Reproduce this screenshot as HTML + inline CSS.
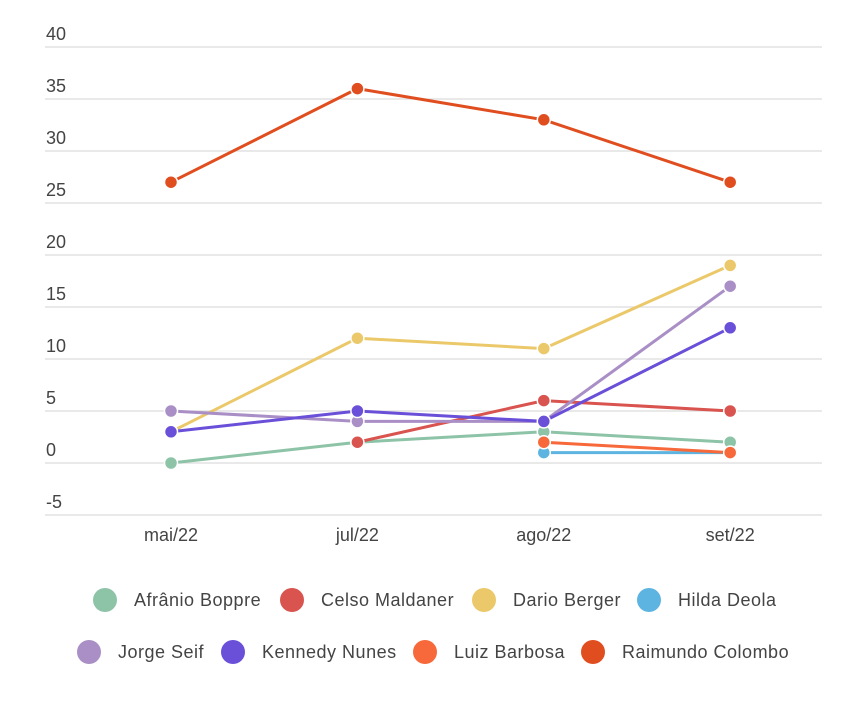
<!DOCTYPE html>
<html><head><meta charset="utf-8"><style>
body{margin:0;background:#fff;font-family:"Liberation Sans",sans-serif}
svg text{font-family:"Liberation Sans",sans-serif}
</style></head><body>
<svg id="c" width="861" height="710"></svg>
<script>
const categories=["mai/22","jul/22","ago/22","set/22"];
const seriesNames=["Afrânio Boppre","Celso Maldaner","Dario Berger","Hilda Deola","Jorge Seif","Kennedy Nunes","Luiz Barbosa","Raimundo Colombo"];
const seriesColors=["#8dc3a7","#d9534f","#ebc96a","#5db4e0","#a98fc6","#6a4fd9","#f7693a","#e04e20"];
const afranio=[0,2,3,2];
const celso=[null,2,6,5];
const dario=[3,12,11,19];
const hilda=[null,null,1,1];
const jorge=[5,4,4,17];
const kennedy=[3,5,4,13];
const luiz=[null,null,2,1];
const raimundo=[27,36,33,27];
const seriesValues=[afranio,celso,dario,hilda,jorge,kennedy,luiz,raimundo];
const yTicks=[40,35,30,25,20,15,10,5,0,-5];

const NS="http://www.w3.org/2000/svg";
const svg=document.getElementById('c');
function y(v){return 463-(v*52/5);}
function x(i){return 171+i*186.4;}
function mk(t,a){const e=document.createElementNS(NS,t);for(const k in a)e.setAttribute(k,a[k]);return e;}

yTicks.forEach(t=>{
  const l=mk('line',{x1:45,x2:822,y1:y(t),y2:y(t),stroke:'#dcdcdc','stroke-width':1.3});
  
  
  svg.appendChild(l);
  const tx=mk('text',{x:46,y:y(t)-7,'font-size':18,fill:'#444'});
  tx.textContent=t;
  
  
  svg.appendChild(tx);
});
categories.forEach((c,i)=>{
  const tx=mk('text',{x:x(i),y:541,'font-size':18,fill:'#444','text-anchor':'middle'});
  tx.textContent=c;
  
  
  svg.appendChild(tx);
});
seriesValues.forEach((vals,s)=>{
  const g=mk('g',{});
  
  
  let d='';
  vals.forEach((v,i)=>{if(v===null)return;d+=(d?'L':'M')+x(i)+' '+y(v)+' ';});
  const p=mk('path',{d:d,fill:'none',stroke:seriesColors[s],'stroke-width':3});
  
  
  g.appendChild(p);
  vals.forEach((v,i)=>{if(v===null)return;
    const c=mk('circle',{cx:x(i),cy:y(v),r:6.5,fill:seriesColors[s],stroke:'#fff','stroke-width':1.5});
    
    
    g.appendChild(c);
  });
  svg.appendChild(g);
});
const legX=[105,292,484,649,89,233,425,593];
seriesNames.forEach((n,s)=>{
  const cy=s<4?600:652;
  const g=mk('g',{});
  
  
  g.appendChild(mk('circle',{cx:legX[s],cy:cy,r:12,fill:seriesColors[s]}));
  const t=mk('text',{x:legX[s]+29,y:cy+6,'font-size':18,fill:'#444','letter-spacing':0.5});
  t.textContent=n;
  g.appendChild(t);
  svg.appendChild(g);
});
</script>
</body></html>
